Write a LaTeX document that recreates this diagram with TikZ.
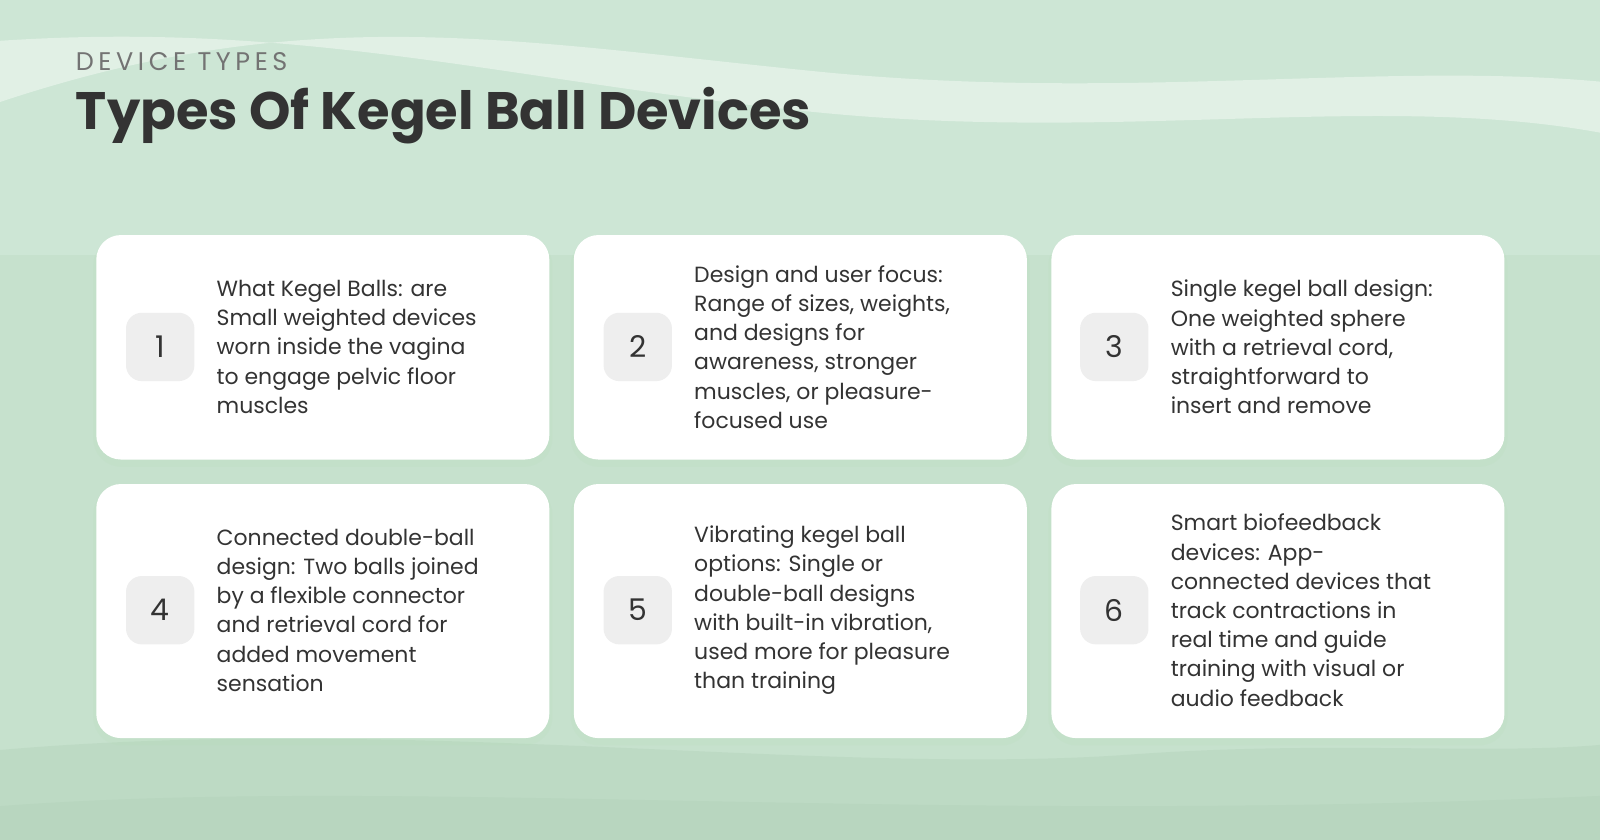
\documentclass[tikz,border=0pt]{standalone}
\usepackage{fontspec}
\setmainfont{Poppins}
\newfontfamily\spaced[LetterSpace=18]{Poppins}
\usetikzlibrary{positioning,calc}
\definecolor{bgtop}{HTML}{CDE6D5}
\definecolor{bgmid}{HTML}{C6E1CD}
\definecolor{bgbot}{HTML}{B8D6BF}
\definecolor{ink}{HTML}{333333}
\definecolor{badge}{HTML}{EEEEEE}
\tikzset{
  card/.style={rectangle, rounded corners=14pt, fill=white, minimum width=444*0.0204cm, minimum height=#1, anchor=north west},
  shade/.style={rectangle, rounded corners=16pt, fill=black!40!green!30, opacity=0.12, minimum width=450*0.0204cm, minimum height=#1, anchor=north west},
  num/.style={rectangle, rounded corners=9pt, fill=badge, minimum size=67*0.0204cm, text=ink, font=\fontsize{17}{20}\selectfont},
  desc/.style={anchor=west, align=left, text=ink, inner sep=0pt, font=\fontsize{12.5}{16.6}\selectfont}
}
\begin{document}
\begin{tikzpicture}[x=0.020408cm, y=-0.020408cm]
    \useasboundingbox (0,0) rectangle (1568,823);
    % background and waves
    \fill[bgmid] (0,0) rectangle (1568,823);
    \fill[bgtop] (0,0) rectangle (1568,250);
    \fill[white, opacity=0.4] (0,40) .. controls (300,20) and (500,80) .. (800,110)
        .. controls (1100,140) and (1350,90) .. (1568,130) -- (1568,80)
        .. controls (1350,60) and (1100,100) .. (800,70) .. controls (500,40) and (300,0) .. (0,100) -- cycle;
    \fill[bgbot, opacity=0.6] (0,735) .. controls (400,700) and (800,760) .. (1100,740)
        .. controls (1300,725) and (1450,740) .. (1568,730) -- (1568,823) -- (0,823) -- cycle;
    \fill[bgbot] (0,790) .. controls (400,760) and (900,810) .. (1568,780) -- (1568,823) -- (0,823) -- cycle;

    \node[anchor=base west, inner sep=0pt, text=black!55, font=\spaced\fontsize{14.5}{16}\selectfont] (kicker) at (74,69) {DEVICE TYPES};
    \node[anchor=base west, inner sep=0pt, text=ink, font=\bfseries\fontsize{30}{36}\selectfont] (title) at (74,127) {Types Of Kegel Ball Devices};

    % cards
    \foreach \x/\y/\h/\i in {94/230/220/c1, 562/230/220/c2, 1030/230/220/c3, 94/474/249/c4, 562/474/249/c5, 1030/474/249/c6} {
        \node[shade=\h*0.0204cm+3pt] at (\x-3,\y+2) {};
        \node[card=\h*0.0204cm] (\i) at (\x,\y) {};
    }

    \node[num] (n1) at (157,340) {1};
    \node[num] (n2) at (625,340) {2};
    \node[num] (n3) at (1092,340) {3};
    \node[num] (n4) at (157,598) {4};
    \node[num] (n5) at (625,598) {5};
    \node[num] (n6) at (1092,598) {6};

    \node[desc] (t1) at (212,340) {What Kegel Balls: are\\Small weighted devices\\worn inside the vagina\\to engage pelvic floor\\muscles};
    \node[desc] (t2) at (680,340) {Design and user focus:\\Range of sizes, weights,\\and designs for\\awareness, stronger\\muscles, or pleasure-\\focused use};
    \node[desc] (t3) at (1147,340) {Single kegel ball design:\\One weighted sphere\\with a retrieval cord,\\straightforward to\\insert and remove};
    \node[desc] (t4) at (212,598) {Connected double-ball\\design: Two balls joined\\by a flexible connector\\and retrieval cord for\\added movement\\sensation};
    \node[desc] (t5) at (680,598) {Vibrating kegel ball\\options: Single or\\double-ball designs\\with built-in vibration,\\used more for pleasure\\than training};
    \node[desc] (t6) at (1147,598) {Smart biofeedback\\devices: App-\\connected devices that\\track contractions in\\real time and guide\\training with visual or\\audio feedback};
\end{tikzpicture}
\end{document}
